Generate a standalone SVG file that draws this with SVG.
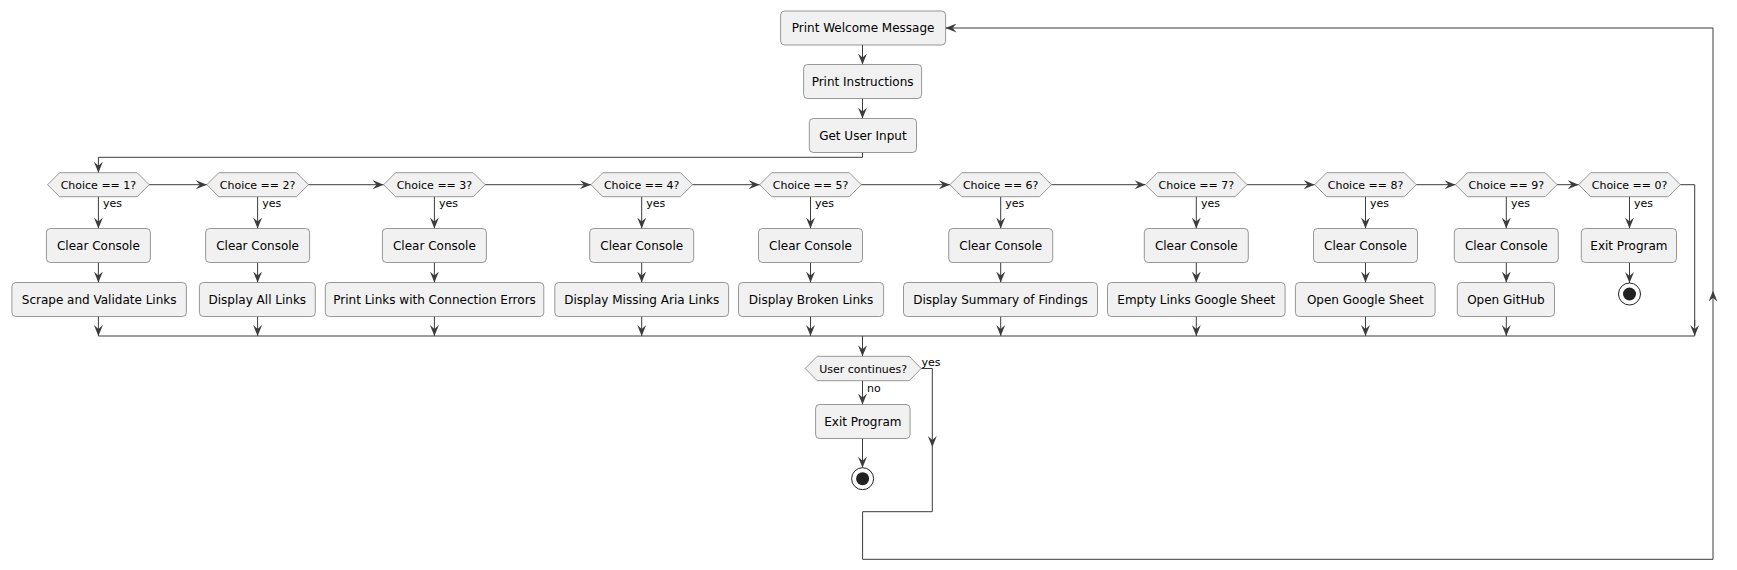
<svg xmlns="http://www.w3.org/2000/svg" width="1737" height="570" viewBox="0 0 1737 570">
<defs>
<style>
.box{fill:#F1F1F1;stroke:#555;stroke-width:0.6}
.hex{fill:#F1F1F1;stroke:#555;stroke-width:0.6}
.t{font-family:"DejaVu Sans",sans-serif;font-size:12px;fill:#000;text-anchor:middle}
.h{font-family:"DejaVu Sans",sans-serif;font-size:11px;fill:#000;text-anchor:middle}
.l{font-family:"DejaVu Sans",sans-serif;font-size:11px;fill:#000}
.c{fill:none;stroke:#3c3c3c;stroke-width:1}
.ca{fill:none;stroke:#3c3c3c;stroke-width:1;marker-end:url(#ah)}
.so{fill:#fff;stroke:#222;stroke-width:1}
.si{fill:#222;stroke:none}
</style>
<marker id="ah" viewBox="0 0 11 9" refX="11" refY="4.5" markerWidth="11" markerHeight="9" markerUnits="userSpaceOnUse" orient="auto">
<path d="M0,0 L11,4.5 L0,9 L4,4.5 Z" fill="#3c3c3c"/>
</marker>
</defs>
<g id="connectors">
<path class="ca" d="M862.5,45 V64.5"/>
<path class="ca" d="M862.5,98.5 V118.5"/>
<path class="ca" d="M862.5,152.5 V157.3 H98.4 V172.7"/>
<path class="ca" d="M149.2,184.7 H206.8"/>
<path class="ca" d="M308.4,184.7 H383.6"/>
<path class="ca" d="M485.2,184.7 H590.9"/>
<path class="ca" d="M692.5,184.7 H759.7"/>
<path class="ca" d="M861.3,184.7 H949.9"/>
<path class="ca" d="M1051.5,184.7 H1145.5"/>
<path class="ca" d="M1247.1,184.7 H1314.7"/>
<path class="ca" d="M1416.3,184.7 H1455.5"/>
<path class="ca" d="M1557.1,184.7 H1578.7"/>
<path class="c" d="M1680.3,184.7 H1694.7 V326"/>
<path class="ca" d="M1694.7,320 V336"/>
<path class="ca" d="M98.4,196.7 V228.5"/>
<path class="ca" d="M257.6,196.7 V228.5"/>
<path class="ca" d="M434.4,196.7 V228.5"/>
<path class="ca" d="M641.7,196.7 V228.5"/>
<path class="ca" d="M810.5,196.7 V228.5"/>
<path class="ca" d="M1000.7,196.7 V228.5"/>
<path class="ca" d="M1196.3,196.7 V228.5"/>
<path class="ca" d="M1365.5,196.7 V228.5"/>
<path class="ca" d="M1506.3,196.7 V228.5"/>
<path class="ca" d="M1629.5,196.7 V228.5"/>
<path class="ca" d="M98.4,262.5 V282.5"/>
<path class="ca" d="M257.6,262.5 V282.5"/>
<path class="ca" d="M434.4,262.5 V282.5"/>
<path class="ca" d="M641.7,262.5 V282.5"/>
<path class="ca" d="M810.5,262.5 V282.5"/>
<path class="ca" d="M1000.7,262.5 V282.5"/>
<path class="ca" d="M1196.3,262.5 V282.5"/>
<path class="ca" d="M1365.5,262.5 V282.5"/>
<path class="ca" d="M1506.3,262.5 V282.5"/>
<path class="ca" d="M1629.5,262.5 V283"/>
<path class="ca" d="M98.4,316.5 V336"/>
<path class="ca" d="M257.6,316.5 V336"/>
<path class="ca" d="M434.4,316.5 V336"/>
<path class="ca" d="M641.7,316.5 V336"/>
<path class="ca" d="M810.5,316.5 V336"/>
<path class="ca" d="M1000.7,316.5 V336"/>
<path class="ca" d="M1196.3,316.5 V336"/>
<path class="ca" d="M1365.5,316.5 V336"/>
<path class="ca" d="M1506.3,316.5 V336"/>
<path class="c" d="M98.4,336 H1694.7"/>
<path class="ca" d="M862.5,336 V356.3"/>
<path class="ca" d="M862.5,380.7 V404.5"/>
<path class="ca" d="M862.5,438.5 V467.7"/>
<path class="ca" d="M921.2,368.5 H932.3 V447"/>
<path class="ca" d="M932.3,447 V511.7 H862.6 V559.3 H1713 V290.7"/>
<path class="ca" d="M1713,290.7 V28 H945.6"/>
<text class="l" x="103" y="207">yes</text>
<text class="l" x="262.2" y="207">yes</text>
<text class="l" x="439" y="207">yes</text>
<text class="l" x="646.3" y="207">yes</text>
<text class="l" x="815.1" y="207">yes</text>
<text class="l" x="1005.3" y="207">yes</text>
<text class="l" x="1200.9" y="207">yes</text>
<text class="l" x="1370.1" y="207">yes</text>
<text class="l" x="1510.9" y="207">yes</text>
<text class="l" x="1634.1" y="207">yes</text>
<text class="l" x="921.5" y="366">yes</text>
<text class="l" x="867" y="391.5">no</text>
</g>
<g id="welcome"><rect class="box" x="780.6" y="11" width="165" height="34" rx="4"/><text class="t" x="863.1" y="32.3">Print Welcome Message</text></g>
<g id="instructions"><rect class="box" x="803.6" y="64.5" width="118" height="34" rx="4"/><text class="t" x="862.6" y="85.8">Print Instructions</text></g>
<g id="input"><rect class="box" x="809.3" y="118.5" width="107.2" height="34" rx="4"/><text class="t" x="862.9" y="139.8">Get User Input</text></g>

<g id="choice1"><polygon class="hex" points="47.6,184.7 59.6,172.7 137.2,172.7 149.2,184.7 137.2,196.7 59.6,196.7"/><text class="h" x="98.4" y="188.7">Choice == 1?</text></g>
<g id="choice2"><polygon class="hex" points="206.8,184.7 218.8,172.7 296.4,172.7 308.4,184.7 296.4,196.7 218.8,196.7"/><text class="h" x="257.6" y="188.7">Choice == 2?</text></g>
<g id="choice3"><polygon class="hex" points="383.6,184.7 395.6,172.7 473.2,172.7 485.2,184.7 473.2,196.7 395.6,196.7"/><text class="h" x="434.4" y="188.7">Choice == 3?</text></g>
<g id="choice4"><polygon class="hex" points="590.9,184.7 602.9,172.7 680.5,172.7 692.5,184.7 680.5,196.7 602.9,196.7"/><text class="h" x="641.7" y="188.7">Choice == 4?</text></g>
<g id="choice5"><polygon class="hex" points="759.7,184.7 771.7,172.7 849.3,172.7 861.3,184.7 849.3,196.7 771.7,196.7"/><text class="h" x="810.5" y="188.7">Choice == 5?</text></g>
<g id="choice6"><polygon class="hex" points="949.9,184.7 961.9,172.7 1039.5,172.7 1051.5,184.7 1039.5,196.7 961.9,196.7"/><text class="h" x="1000.7" y="188.7">Choice == 6?</text></g>
<g id="choice7"><polygon class="hex" points="1145.5,184.7 1157.5,172.7 1235.1,172.7 1247.1,184.7 1235.1,196.7 1157.5,196.7"/><text class="h" x="1196.3" y="188.7">Choice == 7?</text></g>
<g id="choice8"><polygon class="hex" points="1314.7,184.7 1326.7,172.7 1404.3,172.7 1416.3,184.7 1404.3,196.7 1326.7,196.7"/><text class="h" x="1365.5" y="188.7">Choice == 8?</text></g>
<g id="choice9"><polygon class="hex" points="1455.5,184.7 1467.5,172.7 1545.1,172.7 1557.1,184.7 1545.1,196.7 1467.5,196.7"/><text class="h" x="1506.3" y="188.7">Choice == 9?</text></g>
<g id="choice0"><polygon class="hex" points="1578.7,184.7 1590.7,172.7 1668.3,172.7 1680.3,184.7 1668.3,196.7 1590.7,196.7"/><text class="h" x="1629.5" y="188.7">Choice == 0?</text></g>

<g id="clear1"><rect class="box" x="46.4" y="228.5" width="104" height="34" rx="4"/><text class="t" x="98.4" y="249.8">Clear Console</text></g>
<g id="clear2"><rect class="box" x="205.6" y="228.5" width="104" height="34" rx="4"/><text class="t" x="257.6" y="249.8">Clear Console</text></g>
<g id="clear3"><rect class="box" x="382.4" y="228.5" width="104" height="34" rx="4"/><text class="t" x="434.4" y="249.8">Clear Console</text></g>
<g id="clear4"><rect class="box" x="589.7" y="228.5" width="104" height="34" rx="4"/><text class="t" x="641.7" y="249.8">Clear Console</text></g>
<g id="clear5"><rect class="box" x="758.5" y="228.5" width="104" height="34" rx="4"/><text class="t" x="810.5" y="249.8">Clear Console</text></g>
<g id="clear6"><rect class="box" x="948.7" y="228.5" width="104" height="34" rx="4"/><text class="t" x="1000.7" y="249.8">Clear Console</text></g>
<g id="clear7"><rect class="box" x="1144.3" y="228.5" width="104" height="34" rx="4"/><text class="t" x="1196.3" y="249.8">Clear Console</text></g>
<g id="clear8"><rect class="box" x="1313.5" y="228.5" width="104" height="34" rx="4"/><text class="t" x="1365.5" y="249.8">Clear Console</text></g>
<g id="clear9"><rect class="box" x="1454.3" y="228.5" width="104" height="34" rx="4"/><text class="t" x="1506.3" y="249.8">Clear Console</text></g>
<g id="exit0"><rect class="box" x="1581.3" y="228.5" width="95.2" height="34" rx="4"/><text class="t" x="1628.9" y="249.8">Exit Program</text></g>

<g id="act1"><rect class="box" x="11.9" y="282.5" width="174.5" height="34" rx="4"/><text class="t" x="99.15" y="303.8">Scrape and Validate Links</text></g>
<g id="act2"><rect class="box" x="199.4" y="282.5" width="115.9" height="34" rx="4"/><text class="t" x="257.35" y="303.8">Display All Links</text></g>
<g id="act3"><rect class="box" x="325.3" y="282.5" width="218.5" height="34" rx="4"/><text class="t" x="434.55" y="303.8">Print Links with Connection Errors</text></g>
<g id="act4"><rect class="box" x="554.8" y="282.5" width="173.8" height="34" rx="4"/><text class="t" x="641.7" y="303.8">Display Missing Aria Links</text></g>
<g id="act5"><rect class="box" x="738.5" y="282.5" width="145.1" height="34" rx="4"/><text class="t" x="811.05" y="303.8">Display Broken Links</text></g>
<g id="act6"><rect class="box" x="903.5" y="282.5" width="194" height="34" rx="4"/><text class="t" x="1000.5" y="303.8">Display Summary of Findings</text></g>
<g id="act7"><rect class="box" x="1107.5" y="282.5" width="177.6" height="34" rx="4"/><text class="t" x="1196.3" y="303.8">Empty Links Google Sheet</text></g>
<g id="act8"><rect class="box" x="1295.4" y="282.5" width="139.7" height="34" rx="4"/><text class="t" x="1365.25" y="303.8">Open Google Sheet</text></g>
<g id="act9"><rect class="box" x="1457.3" y="282.5" width="97.2" height="34" rx="4"/><text class="t" x="1505.9" y="303.8">Open GitHub</text></g>
<g id="stop0"><circle class="so" cx="1629.5" cy="294" r="11"/><circle class="si" cx="1629.5" cy="294" r="6.5"/></g>

<g id="continue"><polygon class="hex" points="805.2,368.5 817.2,356.3 909.2,356.3 921.2,368.5 909.2,380.7 817.2,380.7"/><text class="h" x="863.2" y="372.5">User continues?</text></g>
<g id="exitmain"><rect class="box" x="815.6" y="404.5" width="94.5" height="34" rx="4"/><text class="t" x="862.85" y="425.8">Exit Program</text></g>
<g id="stopmain"><circle class="so" cx="862.6" cy="478.7" r="11"/><circle class="si" cx="862.6" cy="478.7" r="6.5"/></g>
</svg>
